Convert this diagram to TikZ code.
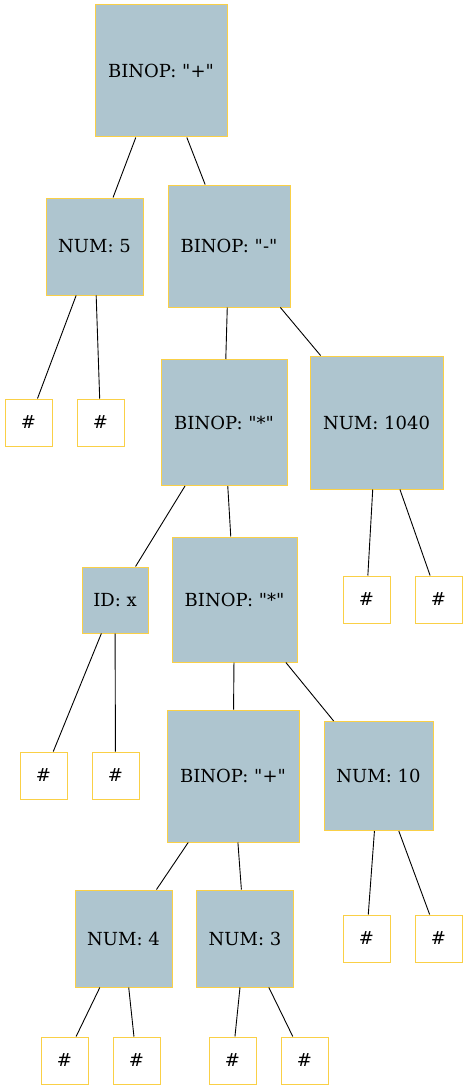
\documentclass[tikz,border=0pt]{standalone}
\usepackage{fontspec}
\setmainfont{DejaVu Serif}[Ligatures=TeXOff]
\definecolor{astfill}{RGB}{174,197,207}
\definecolor{astline}{RGB}{250,208,70}
\tikzset{astnode/.style={draw=astline, line width=1pt, fill=astfill, inner sep=0pt, minimum size=#1}}
\tikzset{leaf/.style={draw=astline, line width=1pt, fill=white, inner sep=0pt, minimum size=47pt}}
\tikzset{edge/.style={-, line width=0.9pt}}

\begin{document}
\begin{tikzpicture}[x=1pt, y=-1pt, font=\fontsize{18}{22}\selectfont]
      \useasboundingbox (0,0) rectangle (468,1089);
      \node[astnode=132pt] (root) at (161, 71) {BINOP: "+"};
      \node[astnode=97pt] (num5) at (94.5, 246.5) {NUM: 5};
      \node[astnode=122pt] (minus) at (229, 246) {BINOP: "-"};
      \node[leaf] (h1) at (28.5, 422.5) {\#};
      \node[leaf] (h2) at (100.5, 422.5) {\#};
      \node[astnode=126pt] (times1) at (224, 422.5) {BINOP: "*"};
      \node[astnode=133pt] (num1040) at (376.5, 422.5) {NUM: 1040};
      \node[astnode=66pt] (idx) at (115, 600) {ID: x};
      \node[astnode=125pt] (times2) at (234.5, 599.5) {BINOP: "*"};
      \node[leaf] (h3) at (366.5, 599.5) {\#};
      \node[leaf] (h4) at (438.5, 599.5) {\#};
      \node[leaf] (h5) at (43.5, 775.5) {\#};
      \node[leaf] (h6) at (115.5, 775.5) {\#};
      \node[astnode=132pt] (plus2) at (233, 776) {BINOP: "+"};
      \node[astnode=109pt] (num10) at (378.5, 776) {NUM: 10};
      \node[astnode=97pt] (num4) at (123.5, 938.5) {NUM: 4};
      \node[astnode=97pt] (num3) at (245, 938.5) {NUM: 3};
      \node[leaf] (h7) at (366.5, 938.5) {\#};
      \node[leaf] (h8) at (438.5, 938.5) {\#};
      \node[leaf] (h9) at (64.5, 1060.5) {\#};
      \node[leaf] (h10) at (136.5, 1060.5) {\#};
      \node[leaf] (h11) at (232.5, 1060.5) {\#};
      \node[leaf] (h12) at (304.5, 1060.5) {\#};

      \draw[edge] (root) -- (num5);
      \draw[edge] (root) -- (minus);
      \draw[edge] (num5) -- (h1);
      \draw[edge] (num5) -- (h2);
      \draw[edge] (minus) -- (times1);
      \draw[edge] (minus) -- (num1040);
      \draw[edge] (times1) -- (idx);
      \draw[edge] (times1) -- (times2);
      \draw[edge] (num1040) -- (h3);
      \draw[edge] (num1040) -- (h4);
      \draw[edge] (idx) -- (h5);
      \draw[edge] (idx) -- (h6);
      \draw[edge] (times2) -- (plus2);
      \draw[edge] (times2) -- (num10);
      \draw[edge] (plus2) -- (num4);
      \draw[edge] (plus2) -- (num3);
      \draw[edge] (num10) -- (h7);
      \draw[edge] (num10) -- (h8);
      \draw[edge] (num4) -- (h9);
      \draw[edge] (num4) -- (h10);
      \draw[edge] (num3) -- (h11);
      \draw[edge] (num3) -- (h12);
    \end{tikzpicture}
\end{document}
